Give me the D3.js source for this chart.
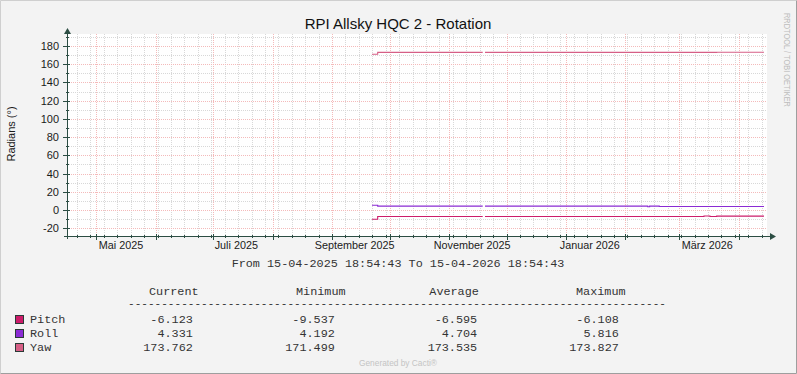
<!DOCTYPE html>
<html><head><meta charset="utf-8">
<script src="https://cdn.jsdelivr.net/npm/d3@7"></script>
<style>body{margin:0;background:#F3F3F3;} svg{display:block}</style>
</head><body><svg id="c" width="797" height="374"></svg>
<script>
// ---------- data ----------
const chartTitle = "RPI Allsky HQC 2 - Rotation";
const yAxisTitle = "Radians (°)";
const startTime = "2025-04-15T18:54:43";
const endTime = "2026-04-15T18:54:43";
const rangeText = "From 15-04-2025 18:54:43 To 15-04-2026 18:54:43";
const yMajorTicks = [-20, 0, 20, 40, 60, 80, 100, 120, 140, 160, 180];
const yMinorTicks = [-20, -10, 0, 10, 20, 30, 40, 50, 60, 70, 80, 90, 100, 110, 120, 130, 140, 150, 160, 170, 180, 190];
const xLabelTexts = ["Mai 2025", "Juli 2025", "September 2025", "November 2025", "Januar 2026", "März 2026"];
const xLabelDates = ["2025-05-13T22:00", "2025-07-13T02:00", "2025-09-12T19:00", "2025-11-13T02:00", "2026-01-13T09:00", "2026-03-15T14:00"];

const seriesNames = ["Pitch", "Roll", "Yaw"];
const seriesColors = ["#CC1C6A", "#8A2BD4", "#D65F86"];

const pitchTimes = ["2025-09-21T20:00", "2025-09-24T19:00", "2025-11-18T13:00", "2025-11-19T18:00", "2026-03-13T22:00", "2026-03-17T01:00", "2026-03-20T13:00", "2026-04-14T05:00"];
const pitchValues = [-9.537, -6.62, null, -6.62, -6.108, -6.62, -6.123, -6.123];
const rollTimes = ["2025-09-21T20:00", "2025-09-24T19:00", "2025-11-18T13:00", "2025-11-19T18:00", "2026-02-12T14:00", "2026-02-13T14:00", "2026-02-18T15:00", "2026-04-14T05:00"];
const rollValues = [5.816, 4.75, null, 4.75, 4.192, 4.75, 4.331, 4.331];
const yawTimes = ["2025-09-21T20:00", "2025-09-24T19:00", "2025-11-18T13:00", "2025-11-19T18:00", "2026-03-20T13:00", "2026-04-14T05:00"];
const yawValues = [171.499, 173.5, null, 173.5, 173.762, 173.762];

const legendHeaders = ["Current", "Minimum", "Average", "Maximum"];
const legendCurrent = ["-6.123", "4.331", "173.762"];
const legendMinimum = ["-9.537", "4.192", "171.499"];
const legendAverage = ["-6.595", "4.704", "173.535"];
const legendMaximum = ["-6.108", "5.816", "173.827"];

// ---------- layout ----------
const W = 797, H = 374;
const X0 = 67, X1 = 767, YT = 34, YB = 236;
const axisColor = "#2C4D43";
const sans = "'Liberation Sans', Arial, sans-serif";
const mono = "'Liberation Mono', 'Courier New', monospace";

const svg = d3.select("#c");
svg.append("rect").attr("width", W).attr("height", H).attr("fill", "#F3F3F3");
svg.append("path").attr("d", `M0.5,${H-0.5}V0.5H${W-0.5}`).attr("fill", "none").attr("stroke", "#CFCFCF");
svg.append("path").attr("d", `M0.5,${H-0.5}H${W-0.5}V0.5`).attr("fill", "none").attr("stroke", "#9E9E9E");

const x = d3.scaleTime().domain([new Date(startTime), new Date(endTime)]).range([X0, X1]);
const y = d3.scaleLinear().domain([-28.54, 193.17]).range([YB, YT]);

svg.append("rect").attr("x", X0).attr("y", YT).attr("width", X1 - X0).attr("height", YB - YT).attr("fill", "#FFFFFF");

const px = v => Math.round(v) + 0.5;

const g = svg.append("g").attr("shape-rendering", "crispEdges");
const weeks = d3.timeMonday.range(x.domain()[0], x.domain()[1]);
const months = d3.timeMonth.range(x.domain()[0], x.domain()[1]);
const minorC = "#D8D8D8", majorC = "#F4BABA";
g.selectAll(".wv").data(weeks).join("line")
  .attr("x1", d => px(x(d))).attr("x2", d => px(x(d))).attr("y1", YT).attr("y2", YB)
  .attr("stroke", minorC).attr("stroke-dasharray", "1,1");
g.selectAll(".hm").data(yMinorTicks).join("line")
  .attr("x1", X0).attr("x2", X1).attr("y1", d => px(y(d))).attr("y2", d => px(y(d)))
  .attr("stroke", minorC).attr("stroke-dasharray", "1,1");
g.selectAll(".mv").data(months).join("line")
  .attr("x1", d => px(x(d))).attr("x2", d => px(x(d))).attr("y1", YT).attr("y2", YB)
  .attr("stroke", majorC).attr("stroke-dasharray", "1,1");
g.selectAll(".hM").data(yMajorTicks).join("line")
  .attr("x1", X0).attr("x2", X1).attr("y1", d => px(y(d))).attr("y2", d => px(y(d)))
  .attr("stroke", majorC).attr("stroke-dasharray", "1,1");

function buildSeries(times, values) {
  const out = [];
  let prev = null;
  times.forEach((t, i) => {
    const d = new Date(t);
    if (values[i] === null) {
      out.push({ t: d, v: prev });
      out.push({ t: d, v: null });
    } else {
      out.push({ t: d, v: values[i] });
      prev = values[i];
    }
  });
  return out;
}
const allSeries = [buildSeries(pitchTimes, pitchValues), buildSeries(rollTimes, rollValues), buildSeries(yawTimes, yawValues)];
const line = d3.line().defined(d => d.v !== null).x(d => x(d.t)).y(d => y(d.v) + 0.5).curve(d3.curveStepAfter);
allSeries.forEach((s, i) => {
  svg.append("path").datum(s).attr("d", line).attr("fill", "none")
    .attr("stroke", seriesColors[i]).attr("stroke-width", 1.1);
});

const ax = svg.append("g").attr("stroke", axisColor).attr("fill", "none").attr("shape-rendering", "crispEdges");
ax.append("line").attr("x1", X0 + 0.5).attr("x2", X0 + 0.5).attr("y1", YB + 3).attr("y2", YT - 2);
ax.append("line").attr("x1", X0 - 3).attr("x2", X1 + 4).attr("y1", YB + 0.5).attr("y2", YB + 0.5);
svg.append("path").attr("d", `M${X0 + 0.5},${YT - 6}L${X0 - 3},${YT}L${X0 + 4},${YT}Z`).attr("fill", axisColor);
svg.append("path").attr("d", `M${X1 + 9},${YB + 0.5}L${X1 + 3},${YB - 3}L${X1 + 3},${YB + 4}Z`).attr("fill", axisColor);
ax.selectAll(".tw").data(weeks).join("line")
  .attr("x1", d => px(x(d))).attr("x2", d => px(x(d))).attr("y1", YB - 1).attr("y2", YB + 2);
ax.selectAll(".tm").data(months).join("line")
  .attr("x1", d => px(x(d))).attr("x2", d => px(x(d))).attr("y1", YB - 2).attr("y2", YB + 4);
ax.selectAll(".ty").data(yMinorTicks).join("line")
  .attr("x1", X0 - 1).attr("x2", X0 + 2).attr("y1", d => px(y(d))).attr("y2", d => px(y(d)));
ax.selectAll(".tY").data(yMajorTicks).join("line")
  .attr("x1", X0 - 4).attr("x2", X0 + 3).attr("y1", d => px(y(d))).attr("y2", d => px(y(d)));

svg.selectAll(".yl").data(yMajorTicks).join("text")
  .attr("x", 59).attr("y", d => y(d) + 4).attr("text-anchor", "end")
  .attr("font-family", sans).attr("font-size", 11).attr("fill", "#1a1a1a").text(d => d);
svg.selectAll(".xl").data(xLabelDates).join("text")
  .attr("x", d => x(new Date(d))).attr("y", 249).attr("text-anchor", "middle")
  .attr("font-family", sans).attr("font-size", 10.8).attr("fill", "#1a1a1a").text((d, i) => xLabelTexts[i]);

svg.append("text").attr("x", 398).attr("y", 28.5).attr("text-anchor", "middle")
  .attr("font-family", sans).attr("font-size", 15).attr("fill", "#111").text(chartTitle);
svg.append("text").attr("transform", "translate(15,134) rotate(-90)").attr("text-anchor", "middle")
  .attr("font-family", sans).attr("font-size", 11).attr("fill", "#1a1a1a").text(yAxisTitle);
svg.append("text").attr("transform", "translate(784,13) rotate(90)").attr("text-anchor", "start")
  .attr("font-family", sans).attr("font-size", 8.4).attr("textLength", 94).attr("lengthAdjust", "spacingAndGlyphs")
  .attr("fill", "#BDBDBD").text("RRDTOOL / TOBI OETIKER");

svg.append("text").attr("x", 398).attr("y", 267).attr("text-anchor", "middle")
  .attr("font-family", mono).attr("font-size", 11.8).attr("fill", "#333").text(rangeText);

const mt = { "font-family": mono, "font-size": 11.8, fill: "#333" };
function T(sel, attrs) { Object.entries(attrs).forEach(([k, v]) => sel.attr(k, v)); return sel; }
const headerX = [149, 296, 429.3, 576];
legendHeaders.forEach((h, i) => {
  T(svg.append("text"), mt).attr("x", headerX[i]).attr("y", 294.5).text(h);
});
T(svg.append("text"), mt).attr("font-size", 10).attr("x", 128).attr("y", 306.6)
  .attr("textLength", 538).attr("lengthAdjust", "spacingAndGlyphs").text("-".repeat(81));
const valueEndX = [192.8, 334.8, 477.2, 618.8];
const cols = [legendCurrent, legendMinimum, legendAverage, legendMaximum];
const rowY = [323, 337, 351];
seriesNames.forEach((n, r) => {
  svg.append("rect").attr("x", 15.5).attr("y", rowY[r] - 7.5).attr("width", 8).attr("height", 8)
    .attr("fill", seriesColors[r]).attr("stroke", "#2a3a36");
  T(svg.append("text"), mt).attr("x", 30).attr("y", rowY[r]).text(n);
  cols.forEach((c, ci) => {
    T(svg.append("text"), mt).attr("x", valueEndX[ci]).attr("y", rowY[r]).attr("text-anchor", "end").text(c[r]);
  });
});

svg.append("text").attr("x", 398).attr("y", 366).attr("text-anchor", "middle")
  .attr("font-family", sans).attr("font-size", 8.2).attr("textLength", 78).attr("lengthAdjust", "spacingAndGlyphs")
  .attr("fill", "#C4C4C4").text("Generated by Cacti®");
</script></body></html>
